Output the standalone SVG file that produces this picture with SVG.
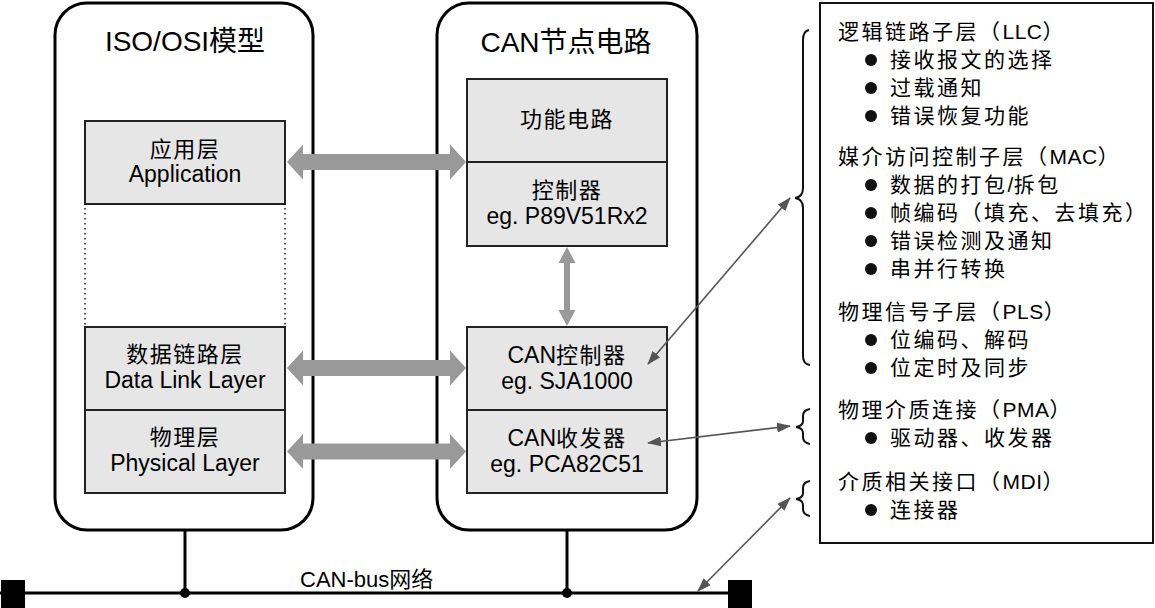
<svg xmlns="http://www.w3.org/2000/svg" width="1155" height="608" viewBox="0 0 1155 608">
<defs>
<style>
text{font-family:"Liberation Sans","Noto Sans CJK SC",sans-serif;fill:#000;}
.title{font-size:28px;text-anchor:middle;}
.cj{font-size:22px;letter-spacing:1.5px;text-anchor:middle;}
.la{font-size:23px;text-anchor:middle;}
.rt{font-size:21px;letter-spacing:2.5px;}
.lt{letter-spacing:0.5px;}
.l0{letter-spacing:0;font-size:23px;}
.cont{fill:#fff;stroke:#000;stroke-width:3;}
.box{fill:#e6e6e6;stroke:#222;stroke-width:2;}
.dot{stroke:#222;stroke-width:1.5;stroke-dasharray:1.5 3.5;fill:none;}
.thick{fill:#999;}
.thin{stroke:#555;stroke-width:1.6;fill:none;marker-start:url(#ah);marker-end:url(#ah);}
.brace{fill:none;stroke:#111;stroke-width:2;}
.bus{stroke:#000;stroke-width:3;fill:none;}
</style>
<marker id="ah" viewBox="0 0 14 10" refX="13" refY="5" markerWidth="14" markerHeight="10" markerUnits="userSpaceOnUse" orient="auto-start-reverse">
<path d="M0,0 L14,5 L0,10 Z" fill="#555"/>
</marker>
</defs>
<rect width="1155" height="608" fill="#fff"/>

<g id="iso-model">
<rect class="cont" x="55" y="3" width="258" height="527" rx="32"/>
<text class="title" x="185" y="51">ISO/OSI模型</text>
</g>
<g id="app-layer">
<rect class="box" x="85" y="121" width="200" height="83"/>
<text class="cj" x="185" y="157">应用层</text>
<text class="la" x="185" y="182">Application</text>
</g>
<g id="dots">
<line class="dot" x1="85" y1="208" x2="85" y2="325"/>
<line class="dot" x1="285" y1="208" x2="285" y2="325"/>
</g>
<g id="datalink-layer">
<rect class="box" x="85" y="327" width="200" height="83"/>
<text class="cj" x="185" y="362">数据链路层</text>
<text class="la" x="185" y="388">Data Link Layer</text>
</g>
<g id="physical-layer">
<rect class="box" x="85" y="410" width="200" height="83"/>
<text class="cj" x="185" y="445">物理层</text>
<text class="la" x="185" y="471">Physical Layer</text>
</g>

<g id="can-node">
<rect class="cont" x="437" y="3" width="260" height="527" rx="32"/>
<text class="title" x="566" y="52">CAN节点电路</text>
</g>
<g id="func-circuit">
<rect class="box" x="467" y="79" width="200" height="83"/>
<text class="cj" x="567" y="127">功能电路</text>
</g>
<g id="controller">
<rect class="box" x="467" y="162" width="200" height="84"/>
<text class="cj" x="567" y="198">控制器</text>
<text class="la" x="567" y="224">eg. P89V51Rx2</text>
</g>
<g id="can-controller">
<rect class="box" x="467" y="327" width="200" height="83"/>
<text class="cj" x="567" y="363"><tspan class="l0">CAN</tspan>控制器</text>
<text class="la" x="567" y="389">eg. SJA1000</text>
</g>
<g id="can-transceiver">
<rect class="box" x="467" y="410" width="200" height="83"/>
<text class="cj" x="567" y="446"><tspan class="l0">CAN</tspan>收发器</text>
<text class="la" x="567" y="472">eg. PCA82C51</text>
</g>

<g id="sublayers">
<rect x="820" y="3" width="333" height="540" fill="#fff" stroke="#111" stroke-width="2"/>
<g fill="#111">
<circle cx="871" cy="60" r="6"/>
<circle cx="871" cy="88" r="6"/>
<circle cx="871" cy="116" r="6"/>
<circle cx="871" cy="185" r="6"/>
<circle cx="871" cy="213" r="6"/>
<circle cx="871" cy="241" r="6"/>
<circle cx="871" cy="269" r="6"/>
<circle cx="871" cy="340" r="6"/>
<circle cx="871" cy="368" r="6"/>
<circle cx="871" cy="438" r="6"/>
<circle cx="871" cy="510" r="6"/>
</g>
<text class="rt" x="838" y="39">逻辑链路子层（<tspan class="lt">LLC</tspan>）</text>
<text class="rt" x="890" y="67">接收报文的选择</text>
<text class="rt" x="890" y="95">过载通知</text>
<text class="rt" x="890" y="123">错误恢复功能</text>
<text class="rt" x="838" y="164">媒介访问控制子层（<tspan class="lt">MAC</tspan>）</text>
<text class="rt" x="890" y="192">数据的打包<tspan class="lt">/</tspan>拆包</text>
<text class="rt" x="890" y="220">帧编码（填充、去填充）</text>
<text class="rt" x="890" y="248">错误检测及通知</text>
<text class="rt" x="890" y="276">串并行转换</text>
<text class="rt" x="838" y="319">物理信号子层（<tspan class="lt">PLS</tspan>）</text>
<text class="rt" x="890" y="347">位编码、解码</text>
<text class="rt" x="890" y="375">位定时及同步</text>
<text class="rt" x="838" y="417">物理介质连接（<tspan class="lt">PMA</tspan>）</text>
<text class="rt" x="890" y="445">驱动器、收发器</text>
<text class="rt" x="838" y="489">介质相关接口（<tspan class="lt">MDI</tspan>）</text>
<text class="rt" x="890" y="517">连接器</text>
</g>

<g id="braces">
<path class="brace" d="M809,30 Q803,31 803,40 L803,188 Q803,197 795,198 Q803,199 803,208 L803,356 Q803,364 810,365"/>
<path class="brace" d="M810,409 Q803,410 803,416 L803,421 Q803,426 796,427 Q803,428 803,433 L803,437 Q803,443 810,444"/>
<path class="brace" d="M810,481 Q803,482 803,488 L803,493 Q803,498 796,499 Q803,500 803,505 L803,509 Q803,515 810,516"/>
</g>

<g id="bus">
<line class="bus" x1="0" y1="593" x2="740" y2="593"/>
<rect x="1" y="580" width="24" height="28" fill="#000"/>
<rect x="728" y="580" width="24" height="28" fill="#000"/>
<line class="bus" x1="185" y1="530" x2="185" y2="593"/>
<line class="bus" x1="567" y1="530" x2="567" y2="593"/>
<circle cx="185" cy="593" r="5" fill="#000"/>
<circle cx="567" cy="593" r="5" fill="#000"/>
<text x="300" y="587" font-size="22">CAN-bus网络</text>
</g>

<g id="connectors">
<polygon class="thick" points="287,162 303,144.5 303,154 450,154 450,144.5 466,162 450,179.5 450,170 303,170 303,179.5"/>
<polygon class="thick" points="287,368 303,350.5 303,360 450,360 450,350.5 466,368 450,385.5 450,376 303,376 303,385.5"/>
<polygon class="thick" points="287,451.5 303,434 303,443.5 450,443.5 450,434 466,451.5 450,469 450,459.5 303,459.5 303,469"/>
<polygon class="thick" points="567,247 575.5,263 570,263 570,310 575.5,310 567,326 558.5,310 564,310 564,263 558.5,263"/>
<line class="thin" x1="648" y1="364" x2="790" y2="198"/>
<line class="thin" x1="648" y1="443" x2="790" y2="426"/>
<line class="thin" x1="698" y1="591" x2="790" y2="498"/>
</g>
</svg>
